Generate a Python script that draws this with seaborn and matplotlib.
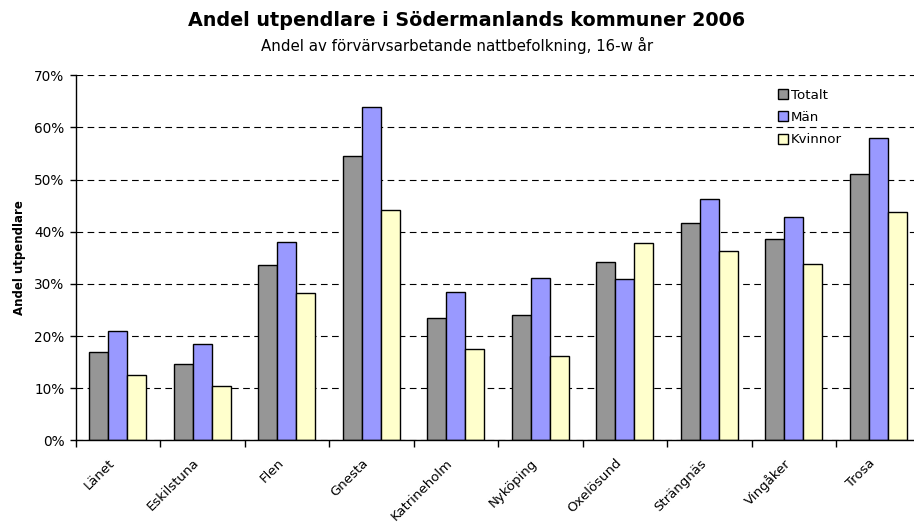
import matplotlib
matplotlib.use("Agg")
import matplotlib.pyplot as plt
import matplotlib.transforms as mtransforms
import seaborn as sns
import pandas as pd
import numpy as np
from matplotlib.ticker import FixedLocator, PercentFormatter
from matplotlib.patches import Patch

categories = ["Länet", "Eskilstuna", "Flen", "Gnesta", "Katrineholm", "Nyköping",
              "Oxelösund", "Strängnäs", "Vingåker", "Trosa"]
totalt = [16.9, 14.7, 33.6, 54.5, 23.4, 24.0, 34.1, 41.6, 38.7, 51.1]
man = [20.9, 18.5, 38.1, 63.9, 28.5, 31.1, 30.9, 46.3, 42.9, 58.0]
kvinnor = [12.6, 10.4, 28.2, 44.2, 17.6, 16.2, 37.8, 36.4, 33.8, 43.8]
series = ["Totalt", "Män", "Kvinnor"]
colors = ["#969696", "#9999FF", "#FFFFCC"]
yticks = [0, 10, 20, 30, 40, 50, 60, 70]

rows = []
for s, vals in zip(series, [totalt, man, kvinnor]):
    for c, v in zip(categories, vals):
        rows.append({"Kommun": c, "Serie": s, "Andel": v})
df = pd.DataFrame(rows)

sns.set_style("white")
plt.rcParams["font.family"] = ["DejaVu Sans"]
plt.rcParams["text.color"] = "black"
plt.rcParams["axes.labelcolor"] = "black"
plt.rcParams["xtick.color"] = "black"
plt.rcParams["ytick.color"] = "black"

W, H = 914, 523
fig = plt.figure(figsize=(W / 100, H / 100), dpi=100)
left, right, top, bottom = 75.5, 920.5, 75.3, 440.3
ax = fig.add_axes([left / W, 1 - bottom / H, (right - left) / W, (bottom - top) / H])

sns.barplot(data=df, x="Kommun", y="Andel", hue="Serie", order=categories,
            hue_order=series, palette=colors, width=0.675, edgecolor="black",
            linewidth=1.0, saturation=1, legend=False, ax=ax, errorbar=None)

ax.set_ylim(0, 70)
ax.set_xlim(-0.5, len(categories) - 0.5)
ax.yaxis.set_major_locator(FixedLocator(yticks))
ax.yaxis.set_major_formatter(PercentFormatter(decimals=0))
ax.set_axisbelow(True)
ax.yaxis.grid(True, color="black", linestyle=(0, (6, 4)), linewidth=0.8)
ax.xaxis.grid(False)

for side in ["top", "right"]:
    ax.spines[side].set_visible(False)
for side in ["left", "bottom"]:
    ax.spines[side].set_color("black")
    ax.spines[side].set_linewidth(1.0)

ax.tick_params(axis="y", which="major", direction="out", length=4, width=1,
               color="black", labelsize=9.8, pad=4, left=True, labelcolor="black")
ax.tick_params(axis="x", which="major", length=0, labelsize=9.5, pad=15,
               labelcolor="black")
ax.xaxis.set_minor_locator(FixedLocator(np.arange(-0.5, len(categories) + 0.5, 1)))
ax.tick_params(axis="x", which="minor", direction="out", length=5, width=1,
               color="black", bottom=True)

ax.set_xticks(range(len(categories)))
ax.set_xticklabels(categories, rotation=45, ha="right", va="center",
                   rotation_mode="anchor")
offset = mtransforms.ScaledTranslation(-5 / 100, 0, fig.dpi_scale_trans)
for lbl in ax.get_xticklabels():
    lbl.set_transform(lbl.get_transform() + offset)

ax.set_xlabel("")
ax.set_ylabel("Andel utpendlare", fontsize=8.5, fontweight="bold", labelpad=6)

handles = [Patch(facecolor=c, edgecolor="black", linewidth=1.0, label=s)
           for s, c in zip(series, colors)]
leg = ax.legend(handles=handles, loc="upper left", bbox_to_anchor=(771 / W, 1 - 82 / H),
                bbox_transform=fig.transFigure, frameon=False, fontsize=9.6,
                handlelength=0.75, handleheight=0.75, handletextpad=0.25,
                labelspacing=0.7, borderpad=0)

fig.text(467 / W, 1 - 20 / H, "Andel utpendlare i Södermanlands kommuner 2006",
         ha="center", va="center", fontsize=13.8, fontweight="bold")
fig.text(457 / W, 1 - 45 / H, "Andel av förvärvsarbetande nattbefolkning, 16-w år",
         ha="center", va="center", fontsize=10.8)

fig.savefig("out.png", dpi=100)
